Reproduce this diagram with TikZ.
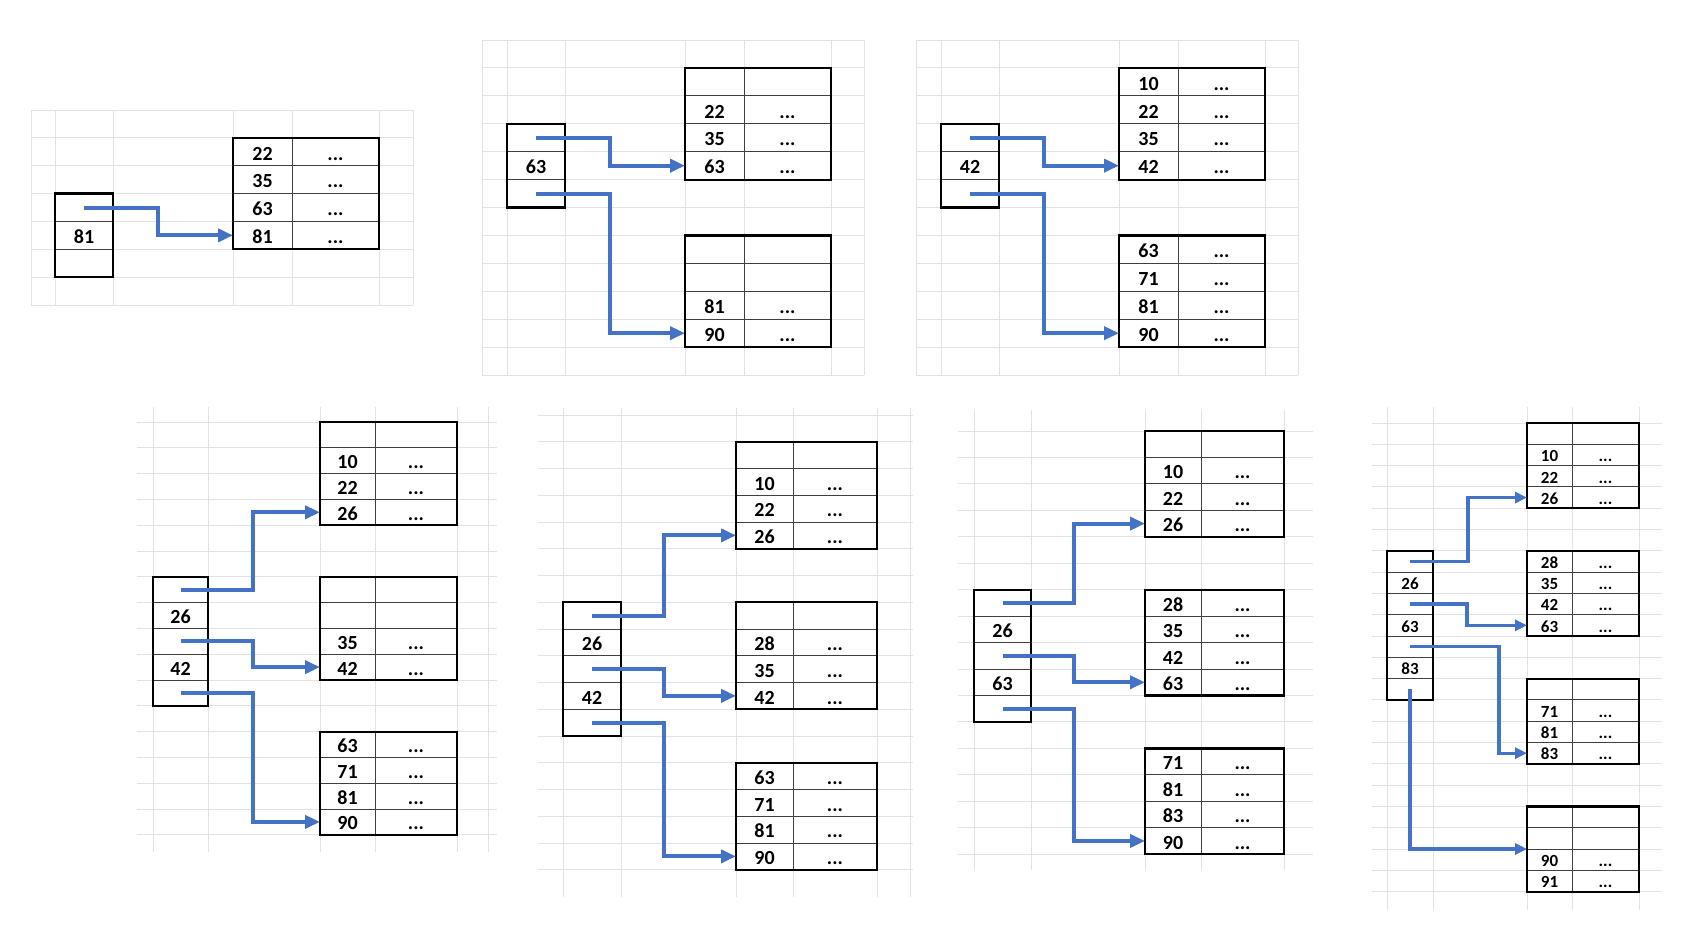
\documentclass[tikz,border=0pt]{standalone}
\usepackage{fontspec}
\setmainfont{Carlito}
\usetikzlibrary{arrows.meta}

\definecolor{linkblue}{HTML}{4472C4}
\definecolor{sheetgray}{HTML}{E2E2E2}

\newcommand{\dts}{...}
\newcommand{\setpanel}[7]{\def\yz{#1}\def\rh{#2}\def\wk{#3}\def\wa{#4}\def\wb{#5}\def\fs{#6}\def\tht{#7}}
\newcommand{\gridsheet}[8]{%
  \foreach \gx in {#1} \draw[gridline] (\gx,#7) -- (\gx,#8);
  \foreach \gi in {0,...,#6} \draw[gridline] (#2,{#4+\gi*#5}) -- (#3,{#4+\gi*#5});
}
\newcommand{\keycol}[5]{%
  \foreach \kv [count=\i] in {#5}
    \node[cell, minimum width=\wk pt, anchor=north west] (#1-\i) at (#2,{\yz+(#3+\i-1)*\rh}) {\kv};
  \draw[box] (#1-1.north west) rectangle (#1-#4.south east);
}
\newcommand{\leafnode}[4]{%
  \foreach \kv/\dv [count=\i] in {#4} {
    \node[cell, minimum width=\wa pt, anchor=north west] (#1-\i) at (#2,{\yz+(#3+\i-1)*\rh}) {\kv};
    \node[cell, minimum width=\wb pt, anchor=west] (#1-v\i) at (#1-\i.east) {\dv};
  }
  \draw[box] (#1-1.north west) rectangle (#1-v4.south east);
}

\begin{document}
\begin{tikzpicture}[x=1pt,y=-1pt,
  gridline/.style={draw=sheetgray,line width=1pt},
  cell/.style={draw=black!75,line width=1pt,inner sep=0pt,outer sep=0pt,minimum height=\rh pt,text height=\tht,text depth=0pt,font=\bfseries\fontsize{\fs}{\fs}\selectfont},
  box/.style={draw=black,line width=2.2pt},
  link/.style={draw=linkblue,line width=4pt,-{Triangle[length=15pt,width=13pt]}},
  smalllink/.style={link,line width=3.3pt,-{Triangle[length=12pt,width=11pt]}}]
  \fill[white] (0,0) rectangle (1692,940);
  \useasboundingbox (0,0) rectangle (1692,940);

  \gridsheet{31,55,113,233,292,379,413}{31}{413}{110}{27.86}{7}{110}{305}
  \gridsheet{482,507,565,685,744,831,864}{482}{864}{40}{27.92}{12}{40}{375}
  \gridsheet{916,941,999,1119,1178,1265,1298}{916}{1298}{40}{27.92}{12}{40}{375}
  \gridsheet{153,208,320,375,457,488}{137}{497}{422}{25.8}{16}{407}{852}
  \gridsheet{563,621,736,793,877,910}{538}{913}{415}{26.75}{17}{408}{897}
  \gridsheet{974,1031,1145,1201,1284}{958}{1313}{431}{26.45}{16}{410}{870}
  \gridsheet{1387,1433,1527,1572,1639}{1372}{1662}{423}{21.3}{22}{407}{910}

  \setpanel{110}{27.86}{58}{59}{87}{20}{16.5pt}
  \keycol{p1k}{55}{3}{3}{{},81,{}}
  \leafnode{p1l}{233}{1}{22/\dts,35/\dts,63/\dts,81/\dts}

  \setpanel{40}{27.92}{58}{59}{87}{20}{16.5pt}
  \keycol{p2k}{507}{3}{3}{{},63,{}}
  \leafnode{p2a}{685}{1}{{}/{},22/\dts,35/\dts,63/\dts}
  \leafnode{p2b}{685}{7}{{}/{},{}/{},81/\dts,90/\dts}

  \keycol{p3k}{941}{3}{3}{{},42,{}}
  \leafnode{p3a}{1119}{1}{10/\dts,22/\dts,35/\dts,42/\dts}
  \leafnode{p3b}{1119}{7}{63/\dts,71/\dts,81/\dts,90/\dts}

  \setpanel{422}{25.8}{55}{55}{82}{20}{16pt}
  \keycol{p4k}{153}{6}{5}{{},26,{},42,{}}
  \leafnode{p4a}{320}{0}{{}/{},10/\dts,22/\dts,26/\dts}
  \leafnode{p4b}{320}{6}{{}/{},{}/{},35/\dts,42/\dts}
  \leafnode{p4c}{320}{12}{63/\dts,71/\dts,81/\dts,90/\dts}

  \setpanel{415}{26.75}{58}{57}{84}{20}{16.5pt}
  \keycol{p5k}{563}{7}{5}{{},26,{},42,{}}
  \leafnode{p5a}{736}{1}{{}/{},10/\dts,22/\dts,26/\dts}
  \leafnode{p5b}{736}{7}{{}/{},28/\dts,35/\dts,42/\dts}
  \leafnode{p5c}{736}{13}{63/\dts,71/\dts,81/\dts,90/\dts}

  \setpanel{431}{26.45}{57}{56}{83}{20}{16.5pt}
  \keycol{p6k}{974}{6}{5}{{},26,{},63,{}}
  \leafnode{p6a}{1145}{0}{{}/{},10/\dts,22/\dts,26/\dts}
  \leafnode{p6b}{1145}{6}{28/\dts,35/\dts,42/\dts,63/\dts}
  \leafnode{p6c}{1145}{12}{71/\dts,81/\dts,83/\dts,90/\dts}

  \setpanel{423}{21.3}{46}{45}{67}{17}{13.5pt}
  \keycol{p7k}{1387}{6}{7}{{},26,{},63,{},83,{}}
  \leafnode{p7a}{1527}{0}{{}/{},10/\dts,22/\dts,26/\dts}
  \leafnode{p7b}{1527}{6}{28/\dts,35/\dts,42/\dts,63/\dts}
  \leafnode{p7c}{1527}{12}{{}/{},71/\dts,81/\dts,83/\dts}
  \leafnode{p7d}{1527}{18}{{}/{},{}/{},90/\dts,91/\dts}

  \draw[link] (p1k-1.center) -- ++(74,0) |- (p1l-4.west);
  \draw[link] (p2k-1.center) -- ++(74,0) |- (p2a-4.west);
  \draw[link] (p2k-3.center) -- ++(74,0) |- (p2b-4.west);
  \draw[link] (p3k-1.center) -- ++(74,0) |- (p3a-4.west);
  \draw[link] (p3k-3.center) -- ++(74,0) |- (p3b-4.west);
  \draw[link] (p4k-1.center) -- ++(72,0) |- (p4a-4.west);
  \draw[link] (p4k-3.center) -- ++(72,0) |- (p4b-4.west);
  \draw[link] (p4k-5.center) -- ++(72,0) |- (p4c-4.west);
  \draw[link] (p5k-1.center) -- ++(72,0) |- (p5a-4.west);
  \draw[link] (p5k-3.center) -- ++(72,0) |- (p5b-4.west);
  \draw[link] (p5k-5.center) -- ++(72,0) |- (p5c-4.west);
  \draw[link] (p6k-1.center) -- ++(71,0) |- (p6a-4.west);
  \draw[link] (p6k-3.center) -- ++(71,0) |- (p6b-4.west);
  \draw[link] (p6k-5.center) -- ++(71,0) |- (p6c-4.west);
  \draw[smalllink] (p7k-1.center) -- ++(58,0) |- (p7a-4.west);
  \draw[smalllink] (p7k-3.center) -- ++(57,0) |- (p7b-4.west);
  \draw[smalllink] (p7k-5.center) -- ++(89,0) |- (p7c-4.west);
  \draw[smalllink] (p7k-7.center) |- (p7d-3.north west);
\end{tikzpicture}
\end{document}
